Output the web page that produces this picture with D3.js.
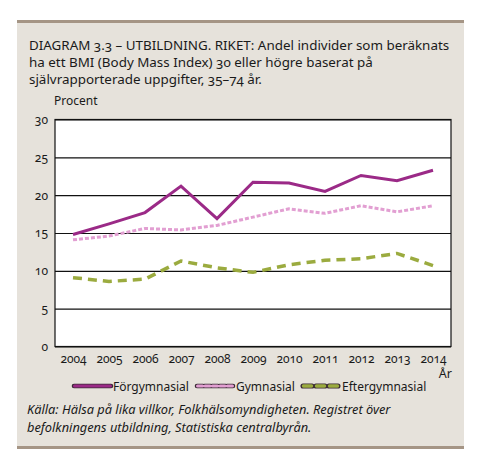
<!DOCTYPE html>
<html>
  <body>
    <style>
      body {
        margin: 0;
        background: #fff;
      }
      svg {
        font-family: 'Noto Sans', 'Open Sans', sans-serif;
        font-variant-numeric: oldstyle-nums;
      }
    </style>
    <div class="chart"></div>
    <script src="https://d3js.org/d3.v7.min.js"></script>
    <script type="text/javascript">
      const years = ['2004', '2005', '2006', '2007', '2008', '2009', '2010', '2011', '2012', '2013', '2014'];
      const forgymnasial = [14.8, 16.2, 17.7, 21.2, 16.9, 21.7, 21.6, 20.5, 22.6, 21.9, 23.3];
      const gymnasial = [14.1, 14.6, 15.6, 15.4, 16.0, 17.1, 18.2, 17.6, 18.6, 17.8, 18.6];
      const eftergymnasial = [9.1, 8.6, 8.9, 11.3, 10.4, 9.8, 10.8, 11.4, 11.6, 12.3, 10.7];
      const yTicks = [0, 5, 10, 15, 20, 25, 30];
      const titleLines = [
        'DIAGRAM 3.3 – UTBILDNING. RIKET: Andel individer som beräknats',
        'ha ett BMI (Body Mass Index) 30 eller högre baserat på',
        'självrapporterade uppgifter, 35–74 år.',
      ];
      const sourceLines = [
        'Källa: Hälsa på lika villkor, Folkhälsomyndigheten. Registret över',
        'befolkningens utbildning, Statistiska centralbyrån.',
      ];

      const width = 493;
      const height = 472;
      const plot = { left: 55, right: 451, top: 119.5, bottom: 346.5 };

      const series = [
        { name: 'Förgymnasial', values: forgymnasial, color: '#9b2a87', width: 3, dash: null },
        { name: 'Gymnasial', values: gymnasial, color: '#e29fd2', width: 3, dash: '4,2' },
        { name: 'Eftergymnasial', values: eftergymnasial, color: '#9bab3f', width: 3.5, dash: '9,6' },
      ];

      const svg = d3
        .select('.chart')
        .append('svg')
        .attr('width', width)
        .attr('height', height);

      // panel
      svg.append('rect').attr('x', 17).attr('y', 21).attr('width', 447).attr('height', 427).attr('fill', '#e6e2db');
      svg.append('rect').attr('x', 17).attr('y', 20).attr('width', 447).attr('height', 3).attr('fill', '#a59585');
      svg.append('rect').attr('x', 17).attr('y', 446).attr('width', 447).attr('height', 3).attr('fill', '#a59585');

      svg
        .append('g')
        .selectAll('text')
        .data(titleLines)
        .enter()
        .append('text')
        .attr('x', 29)
        .attr('y', (d, i) => 50 + i * 17)
        .attr('font-size', 13.4)
        .attr('fill', '#1a1a1a')
        .text((d) => d);

      const scaleX = d3.scalePoint().domain(years).range([plot.left, plot.right]).padding(0.5);
      const scaleY = d3.scaleLinear().domain([0, 30]).range([plot.bottom, plot.top]);

      svg
        .append('rect')
        .attr('x', plot.left)
        .attr('y', plot.top)
        .attr('width', plot.right - plot.left)
        .attr('height', plot.bottom - plot.top)
        .attr('fill', '#fff');

      const axisLeft = d3
        .axisLeft(scaleY)
        .tickValues(yTicks)
        .tickSize(-(plot.right - plot.left))
        .tickPadding(7);
      const gy = svg.append('g').attr('transform', `translate(${plot.left},0)`).call(axisLeft);
      gy.attr('font-family', null);
      gy.select('.domain').remove();
      gy.selectAll('line').attr('stroke', '#111').attr('stroke-width', 1.2);
      gy.selectAll('text').attr('font-size', 12).attr('fill', '#1a1a1a');

      svg
        .append('rect')
        .attr('x', plot.left)
        .attr('y', plot.top)
        .attr('width', plot.right - plot.left)
        .attr('height', plot.bottom - plot.top)
        .attr('fill', 'none')
        .attr('stroke', '#111')
        .attr('stroke-width', 1.2);

      const axisBottom = d3.axisBottom(scaleX).tickSize(0).tickPadding(8);
      const gx = svg.append('g').attr('transform', `translate(0,${plot.bottom})`).call(axisBottom);
      gx.attr('font-family', null);
      gx.select('.domain').remove();
      gx.selectAll('text').attr('font-size', 12).attr('fill', '#1a1a1a');

      svg.append('text').attr('x', 54).attr('y', 105).attr('font-size', 12).attr('fill', '#1a1a1a').text('Procent');
      svg
        .append('text')
        .attr('x', 452)
        .attr('y', 378)
        .attr('text-anchor', 'end')
        .attr('font-size', 12.5)
        .attr('fill', '#1a1a1a')
        .text('År');

      const line = d3
        .line()
        .x((d, i) => scaleX(years[i]))
        .y((d) => scaleY(d));

      svg
        .append('g')
        .selectAll('path')
        .data(series.slice().reverse())
        .enter()
        .append('path')
        .attr('d', (d) => line(d.values))
        .attr('fill', 'none')
        .attr('stroke', (d) => d.color)
        .attr('stroke-width', (d) => d.width)
        .attr('stroke-dasharray', (d) => d.dash);

      // legend
      const legendX = [74, 197, 303];
      const legend = svg
        .append('g')
        .selectAll('g')
        .data(series)
        .enter()
        .append('g')
        .attr('transform', (d, i) => `translate(${legendX[i]},386)`);
      legend
        .append('line')
        .attr('x1', 0)
        .attr('x2', 37)
        .attr('stroke', '#3a2a35')
        .attr('stroke-width', (d) => d.width + 1.6)
        .attr('stroke-linecap', 'round')
        .attr('stroke-dasharray', (d, i) => (i === 0 ? null : i === 1 ? '6,1.5' : '9,4'));
      legend
        .append('line')
        .attr('x1', 0.5)
        .attr('x2', 36.5)
        .attr('stroke', (d) => d.color)
        .attr('stroke-width', (d) => d.width)
        .attr('stroke-linecap', 'round')
        .attr('stroke-dasharray', (d, i) => (i === 0 ? null : i === 1 ? '5,2.5' : '8,5'));
      legend
        .append('text')
        .attr('x', 39)
        .attr('y', 4.5)
        .attr('font-size', 12)
        .attr('fill', '#1a1a1a')
        .text((d) => d.name);

      svg
        .append('g')
        .selectAll('text')
        .data(sourceLines)
        .enter()
        .append('text')
        .attr('x', 27)
        .attr('y', (d, i) => 414 + i * 17.5)
        .attr('font-size', 12.8)
        .attr('font-style', 'italic')
        .attr('fill', '#1a1a1a')
        .text((d) => d);
    </script>
  </body>
</html>
